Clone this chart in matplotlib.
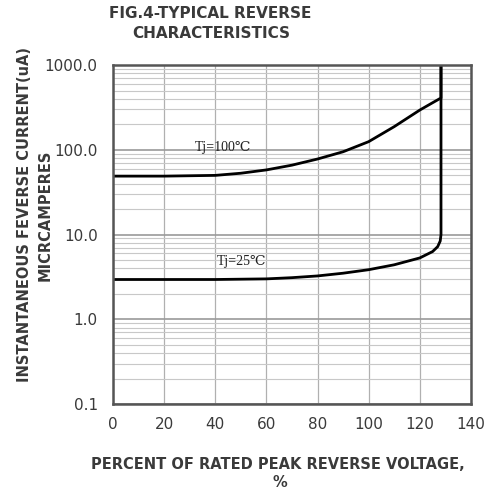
import matplotlib
matplotlib.use("Agg")
import matplotlib.pyplot as plt
from matplotlib.ticker import FixedLocator, LogLocator, NullFormatter

# percent of rated peak reverse voltage vs reverse current (uA)
v_100 = [0, 20, 40, 50, 60, 70, 80, 90, 100, 110, 120, 125, 128.3, 128.3]
i_100 = [49, 49, 50, 53, 58, 66, 78, 95, 125, 188, 295, 360, 410, 1000]

v_25 = [0, 20, 40, 60, 70, 80, 90, 100, 110, 120, 125, 127, 128, 128.3, 128.3]
i_25 = [2.95, 2.95, 2.95, 3.0, 3.1, 3.25, 3.5, 3.85, 4.4, 5.3, 6.3, 7.2, 8.4, 10, 1000]

x_ticks = [0, 20, 40, 60, 80, 100, 120, 140]
y_ticks = [0.1, 1, 10, 100, 1000]
y_labels = ["0.1", "1.0", "10.0", "100.0", "1000.0"]

txt = "#3a3a3a"
sans = ["DejaVu Sans"]
serif = ["Liberation Serif", "DejaVu Serif"]

fig = plt.figure(figsize=(4.89, 4.9), dpi=100)
ax = fig.add_axes([0.231, 0.1755, 0.732, 0.6915])

ax.plot(v_100, i_100, color="black", lw=2.0, solid_capstyle="butt")
ax.plot(v_25, i_25, color="black", lw=2.0, solid_capstyle="butt")

ax.set_yscale("log")
ax.set_xlim(0, 140)
ax.set_ylim(0.1, 1000)

ax.xaxis.set_major_locator(FixedLocator(x_ticks))
ax.set_yticks(y_ticks)
ax.set_yticklabels(y_labels)
ax.yaxis.set_minor_locator(LogLocator(base=10, subs=range(2, 10)))
ax.yaxis.set_minor_formatter(NullFormatter())

ax.grid(True, which="major", axis="y", color="#9a9a9a", lw=1.2)
ax.grid(True, which="minor", axis="y", color="#c8c8c8", lw=0.8)
ax.grid(True, which="major", axis="x", color="#b0b0b0", lw=0.9)

ax.tick_params(which="both", length=0)
ax.tick_params(axis="y", pad=11)
ax.tick_params(axis="x", pad=9)
for lab in ax.get_xticklabels() + ax.get_yticklabels():
    lab.set_family(sans)
    lab.set_fontsize(11)
    lab.set_color(txt)

for s in ax.spines.values():
    s.set_color("#555555")
    s.set_linewidth(1.8)

ax.text(32, 107, "Tj=100\u2103", family=serif, fontsize=10, color="#222222", va="center")
ax.text(40.5, 4.86, "Tj=25\u2103", family=serif, fontsize=10, color="#222222", va="center")

fig.text(210 / 489, 1 - 13 / 490, "FIG.4-TYPICAL REVERSE", family=sans, fontsize=11,
         fontweight="bold", color=txt, ha="center", va="center")
fig.text(211 / 489, 1 - 33 / 490, "CHARACTERISTICS", family=sans, fontsize=11,
         fontweight="bold", color=txt, ha="center", va="center")

fig.text(278 / 489, 1 - 464 / 490, "PERCENT OF RATED PEAK REVERSE VOLTAGE,", family=sans,
         fontsize=10.5, fontweight="bold", color=txt, ha="center", va="center")
fig.text(280 / 489, 1 - 482 / 490, "%", family=sans, fontsize=10.5, fontweight="bold",
         color=txt, ha="center", va="center")

fig.text(25 / 489, 1 - 215 / 490, "INSTANTANEOUS FEVERSE CURRENT(uA)", family=sans,
         fontsize=10.5, fontweight="bold", color=txt, ha="center", va="center", rotation=90)
fig.text(45 / 489, 1 - 215 / 490, "MICRCAMPERES", family=sans, fontsize=10.5,
         fontweight="bold", color=txt, ha="center", va="center", rotation=90)

fig.savefig("out.png", dpi=100)
